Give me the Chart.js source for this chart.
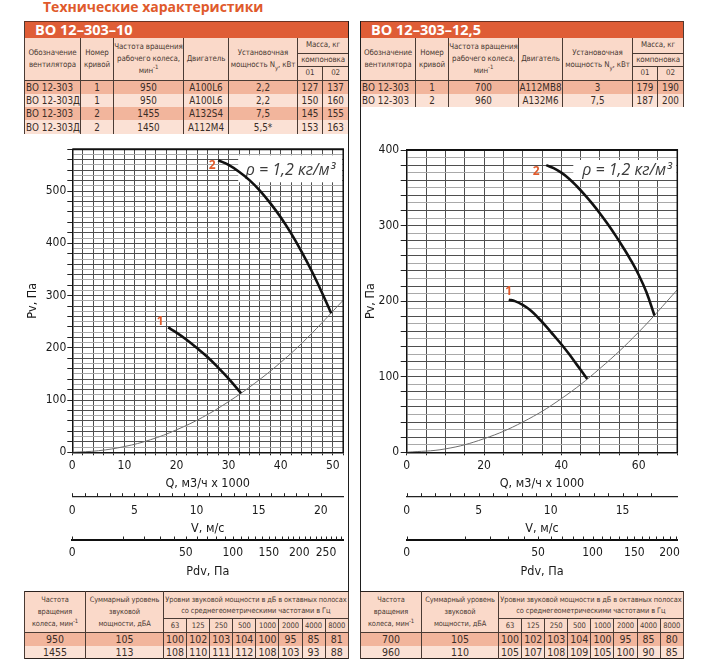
<!DOCTYPE html>
<html lang="ru">
<head>
<meta charset="utf-8">
<title>ВО 12-303</title>
<script src="https://cdn.jsdelivr.net/npm/chart.js@4.4.1/dist/chart.umd.min.js"></script>
<style>
  body { margin:0; width:710px; height:665px; position:relative; overflow:hidden; background:#fff;
         font-family:'DejaVu Sans Condensed', 'Open Sans', sans-serif; color:#3a2d27; }
  .head { position:absolute; left:43px; top:-3px; font-family:'Open Sans', sans-serif; font-weight:700;
          font-size:14px; line-height:20px; color:#e05a2c; }
  .vline { position:absolute; width:1.5px; background:#1e1e1e; z-index:3; }
  canvas { position:absolute; }
  table.spec { position:absolute; border-collapse:collapse; table-layout:fixed;
               border-left:1.5px solid #2b221e; border-right:1.5px solid #2b221e; z-index:2; }
  table.spec td { padding:0; text-align:center; vertical-align:middle; white-space:nowrap; overflow:hidden;
                  border-left:1px solid #4a3b34; border-right:1px solid #4a3b34; }
  tr.band td { background:#df5d36; color:#fff; font-family:'Open Sans', sans-serif; font-weight:700;
               font-size:14.5px; text-align:left; padding-left:10px; height:16px; line-height:16px;
               border-top:1px solid #6b3222; }
  tr.hd td { background:#fad9c9; font-size:7.9px; line-height:12px; color:#4a3a33; letter-spacing:-0.1px; }
  table.spec td.bb { border-bottom:1px solid #4a3b34; }
  tr.dk td { background:#f2b59c; }
  tr.lt td { background:#fbe1d5; }
  tr.dk td, tr.lt td { font-size:9.8px; height:13.3px; line-height:13px; }
  td.l { text-align:left !important; padding-left:1px !important; }
  sup, sub { font-size:6px; line-height:0; }
  table.snd { border-top:1.5px solid #2b221e; border-bottom:1.5px solid #2b221e; }
  table.snd tr.hd td { font-size:7.4px; line-height:12px; }
  table.snd tr.hd td.wide { font-size:7.4px; line-height:11px; }
  table.snd tr.fq td { font-size:7.6px; }
  table.snd tr.dk td, table.snd tr.lt td { font-size:10.5px; height:12.5px; line-height:12px; }
</style>
</head>
<body>
<div class="head">Технические характеристики</div>

<table class="spec" style="left:24px;top:21px;width:324px">
  <colgroup><col style="width:56px"><col style="width:33px"><col style="width:70px"><col style="width:45px"><col style="width:69px"><col style="width:25px"><col style="width:26px"></colgroup>
  <tr class="band"><td colspan="7">ВО 12–303–10</td></tr>
  <tr class="hd" style="height:15px"><td rowspan="3" class="bb">Обозначение<br>вентилятора</td><td rowspan="3" class="bb">Номер<br>кривой</td><td rowspan="3" class="bb">Частота вращения<br>рабочего колеса,<br>мин<sup>-1</sup></td><td rowspan="3" class="bb">Двигатель</td><td rowspan="3" class="bb">Установочная<br>мощность N<sub>у</sub>, кВт</td><td colspan="2" class="bb">Масса, кг</td></tr>
  <tr class="hd" style="height:13px"><td colspan="2" class="bb">компоновка</td></tr>
  <tr class="hd" style="height:14px"><td class="bb">01</td><td class="bb">02</td></tr>
  <tr class="dk"><td class="l">ВО 12-303</td><td>1</td><td>950</td><td>А100L6</td><td>2,2</td><td>127</td><td>137</td></tr>
  <tr class="lt"><td class="l">ВО 12-303Д</td><td>1</td><td>950</td><td>А100L6</td><td>2,2</td><td>150</td><td>160</td></tr>
  <tr class="dk"><td class="l">ВО 12-303</td><td>2</td><td>1455</td><td>А132S4</td><td>7,5</td><td>145</td><td>155</td></tr>
  <tr class="lt"><td class="l">ВО 12-303Д</td><td>2</td><td>1450</td><td>А112М4</td><td>5,5*</td><td>153</td><td>163</td></tr>
</table>

<table class="spec" style="left:360px;top:21px;width:323px">
  <colgroup><col style="width:55px"><col style="width:33px"><col style="width:70px"><col style="width:44px"><col style="width:70px"><col style="width:25px"><col style="width:26px"></colgroup>
  <tr class="band"><td colspan="7">ВО 12–303–12,5</td></tr>
  <tr class="hd" style="height:15px"><td rowspan="3" class="bb">Обозначение<br>вентилятора</td><td rowspan="3" class="bb">Номер<br>кривой</td><td rowspan="3" class="bb">Частота вращения<br>рабочего колеса,<br>мин<sup>-1</sup></td><td rowspan="3" class="bb">Двигатель</td><td rowspan="3" class="bb">Установочная<br>мощность N<sub>у</sub>, кВт</td><td colspan="2" class="bb">Масса, кг</td></tr>
  <tr class="hd" style="height:13px"><td colspan="2" class="bb">компоновка</td></tr>
  <tr class="hd" style="height:14px"><td class="bb">01</td><td class="bb">02</td></tr>
  <tr class="dk"><td class="l">ВО 12-303</td><td>1</td><td>700</td><td>А112МВ8</td><td>3</td><td>179</td><td>190</td></tr>
  <tr class="lt"><td class="l">ВО 12-303</td><td>2</td><td>960</td><td>А132М6</td><td>7,5</td><td>187</td><td>200</td></tr>
</table>

<table class="spec snd" style="left:24px;top:591px;width:324px">
  <colgroup><col style="width:61px"><col style="width:78px"><col span="8" style="width:23.1px"></colgroup>
  <tr class="hd" style="height:27px"><td rowspan="2" class="bb">Частота<br>вращения<br>колеса, мин<sup>-1</sup></td><td rowspan="2" class="bb">Суммарный уровень<br>звуковой<br>мощности, дБА</td><td colspan="8" class="bb wide">Уровни звуковой мощности в дБ в октавных полосах<br>со среднегеометрическими частотами в Гц</td></tr>
  <tr class="hd fq" style="height:14px"><td class="bb">63</td><td class="bb">125</td><td class="bb">250</td><td class="bb">500</td><td class="bb">1000</td><td class="bb">2000</td><td class="bb">4000</td><td class="bb">8000</td></tr>
  <tr class="dk"><td>950</td><td>105</td><td>100</td><td>102</td><td>103</td><td>104</td><td>100</td><td>95</td><td>85</td><td>81</td></tr>
  <tr class="lt"><td>1455</td><td>113</td><td>108</td><td>110</td><td>111</td><td>112</td><td>108</td><td>103</td><td>93</td><td>88</td></tr>
</table>

<table class="spec snd" style="left:360px;top:591px;width:323px">
  <colgroup><col style="width:61px"><col style="width:77px"><col span="8" style="width:23.1px"></colgroup>
  <tr class="hd" style="height:27px"><td rowspan="2" class="bb">Частота<br>вращения<br>колеса, мин<sup>-1</sup></td><td rowspan="2" class="bb">Суммарный уровень<br>звуковой<br>мощности, дБА</td><td colspan="8" class="bb wide">Уровни звуковой мощности в дБ в октавных полосах<br>со среднегеометрическими частотами в Гц</td></tr>
  <tr class="hd fq" style="height:14px"><td class="bb">63</td><td class="bb">125</td><td class="bb">250</td><td class="bb">500</td><td class="bb">1000</td><td class="bb">2000</td><td class="bb">4000</td><td class="bb">8000</td></tr>
  <tr class="dk"><td>700</td><td>105</td><td>100</td><td>102</td><td>103</td><td>104</td><td>100</td><td>95</td><td>85</td><td>80</td></tr>
  <tr class="lt"><td>960</td><td>110</td><td>105</td><td>107</td><td>108</td><td>109</td><td>105</td><td>100</td><td>90</td><td>85</td></tr>
</table>

<div class="vline" style="left:347.5px;top:21px;height:571px"></div>
<div class="vline" style="left:359.5px;top:21px;height:571px"></div>

<canvas id="chart10" width="330" height="450" style="left:20px;top:140px"></canvas>
<canvas id="chart125" width="330" height="450" style="left:360px;top:140px"></canvas>

<script>
// ВО 12-303-10: Q (тыс. м3/ч) and Pv (Па)
const q10Curve1 = [18.4, 20, 22, 24, 26, 28, 30, 32.4];
const pv10Curve1 = [239, 229, 215, 199, 182, 162, 141, 113];
const q10Curve2 = [28, 30, 32, 34, 36, 38, 40, 42, 44, 46, 48, 49.7];
const pv10Curve2 = [559, 550, 537, 521, 501, 477, 450, 419, 384, 346, 304, 266];
const q10Net = [0, 5, 10, 15, 20, 25, 30, 35, 40, 45, 52];
const pv10Net = [0, 3, 11, 24, 43, 67, 97, 132, 172, 218, 291];
const pdvTicks10 = [0, 10, 20, 30, 40, 50, 60, 70, 80, 90, 100, 110, 120, 130, 140, 150, 160, 170, 180, 190, 200, 210, 220, 230, 240, 250, 260, 270, 280];
const pdvLabels10 = [0, 50, 100, 150, 200, 250];

// ВО 12-303-12,5
const q125Curve1 = [26.4, 28, 30, 32, 34, 36, 38, 40, 42, 44, 46.7];
const pv125Curve1 = [202, 200, 195, 188, 178, 167, 155, 143, 130, 116, 97];
const q125Curve2 = [36.1, 38, 40, 42, 44, 46, 48, 50, 52, 54, 56, 58, 60, 62, 64.1];
const pv125Curve2 = [380, 376, 370, 362, 352, 341, 329, 316, 302, 287, 271, 254, 235, 212, 181];
const q125Net = [0, 10, 20, 30, 40, 50, 60, 70];
const pv125Net = [0, 4.5, 18, 40, 71, 111, 159, 215];
const pdvTicks125 = [0, 10, 20, 30, 40, 50, 60, 70, 80, 90, 100, 110, 120, 130, 140, 150, 160, 170, 180, 190, 200, 210];
const pdvLabels125 = [0, 50, 100, 150, 200];

const AXIS_FONT = "'DejaVu Sans Condensed', 'Liberation Sans', sans-serif";
const ORANGE = '#e05a2b';
const TEXT = '#1a1a1a';
const GRID_DARK = '#4f4f4f';
const GRID_LIGHT = '#a9a9a9';

// dynamic pressure grows with V^2, so its axis is a square-root scale
class SqrtScale extends Chart.LinearScale {
  static id = 'sqrt';
  static defaults = Chart.LinearScale.defaults;
  getPixelForValue(value) {
    const d = Math.sqrt(Math.max(0, (value - this.min) / (this.max - this.min)));
    return this.getPixelForDecimal(d);
  }
  getValueForPixel(pixel) {
    const d = this.getDecimalForPixel(pixel);
    return this.min + d * d * (this.max - this.min);
  }
}
Chart.register(SqrtScale);

const panelPlugin = {
  id: 'panel',
  beforeDatasetsDraw(chart, args, o) {
    const { ctx, chartArea: a } = chart;
    ctx.save();
    ctx.fillStyle = '#fff';
    ctx.fillRect(a.right - o.boxW, a.top + o.boxTop, o.boxW - 1, o.boxH);
    ctx.font = "italic 16px 'Open Sans', sans-serif";
    ctx.fillStyle = '#3c3c3c';
    ctx.textAlign = 'right';
    ctx.textBaseline = 'middle';
    ctx.fillText('ρ = 1,2 кг/м³', a.right - o.textRight, a.top + o.textY);
    ctx.restore();
  },
  afterDatasetsDraw(chart) {
    const { ctx, chartArea: a } = chart;
    ctx.save();
    ctx.strokeStyle = '#111';
    ctx.lineWidth = 2;
    ctx.beginPath(); ctx.moveTo(a.left, a.top); ctx.lineTo(a.right + 0.75, a.top); ctx.stroke();
    ctx.lineWidth = 1.5;
    ctx.beginPath(); ctx.moveTo(a.right, a.top); ctx.lineTo(a.right, a.bottom); ctx.stroke();
    // curve numbers next to the first point of each curve
    ctx.font = "bold 12px 'Open Sans', sans-serif";
    ctx.fillStyle = ORANGE;
    ctx.textAlign = 'center';
    ctx.textBaseline = 'middle';
    chart.data.datasets.forEach((ds, i) => {
      if (!ds.num) return;
      const p = chart.getDatasetMeta(i).data[0];
      ctx.fillText(ds.num, p.x + ds.numDx, p.y + ds.numDy);
    });
    ctx.restore();
  },
  afterDraw(chart) {
    // short ticks standing up on the V and Pdv lines
    const { ctx } = chart;
    ctx.save();
    ctx.strokeStyle = '#222';
    ctx.lineWidth = 1;
    ['v', 'p'].forEach(id => {
      const s = chart.scales[id];
      s.ticks.forEach(t => {
        if (id === 'v' && !Number.isInteger(t.value)) return;
        const x = Math.round(s.getPixelForValue(t.value)) + 0.5;
        ctx.beginPath(); ctx.moveTo(x, s.top); ctx.lineTo(x, s.top - 3.5); ctx.stroke();
      });
    });
    ctx.restore();
  }
};

function points(xs, ys) {
  return xs.map((x, i) => ({ x: x, y: ys[i] }));
}

function fanCurve(xs, ys, num, dx, dy) {
  return {
    data: points(xs, ys), borderColor: '#111', borderWidth: 2.6, pointRadius: 0,
    tension: 0.4, borderJoinStyle: 'round', fill: false,
    num: num, numDx: dx, numDy: dy
  };
}

function netCurve(xs, ys) {
  return {
    data: points(xs, ys), borderColor: '#6e6e6e', borderWidth: 1, pointRadius: 0,
    tension: 0.4, fill: false
  };
}

function makePanel(id, c) {
  const font = size => ({ family: AXIS_FONT, size: size });
  return new Chart(document.getElementById(id), {
    type: 'line',
    data: { datasets: c.datasets },
    options: {
      responsive: false,
      animation: false,
      events: [],
      layout: { padding: { top: c.padTop, right: c.padRight, bottom: 9, left: 0 } },
      plugins: {
        legend: { display: false },
        tooltip: { enabled: false },
        panel: c.box
      },
      scales: {
        x: {
          type: 'linear', position: 'bottom', weight: 0, min: 0, max: c.qMax,
          ticks: {
            stepSize: c.qStep, autoSkip: false, maxRotation: 0, padding: 3.2, color: TEXT, font: font(12),
            callback: v => (v % c.qLabelStep === 0 ? v : '')
          },
          grid: { color: GRID_DARK, lineWidth: 1, tickLength: 3, tickColor: '#222' },
          border: { color: '#111', width: 1.5 },
          title: { display: true, text: 'Q, м3/ч х 1000', color: TEXT, font: font(12.5), padding: { top: 0, bottom: 5.2 } },
          afterFit: s => { s.height = 44.4; }
        },
        v: {
          type: 'linear', position: 'bottom', weight: 1, min: 0, max: c.vMax,
          ticks: {
            stepSize: 1, autoSkip: false, maxRotation: 0, padding: 6.8, color: TEXT, font: font(12),
            callback: v => (Number.isInteger(v) && v % 5 === 0 ? v : '')
          },
          grid: { display: false, drawTicks: false },
          border: { color: '#222', width: 1.2 },
          title: { display: true, text: 'V, м/с', color: TEXT, font: font(12.5), padding: { top: 0, bottom: 3.5 } },
          afterFit: s => { s.height = 43.3; }
        },
        p: {
          type: 'sqrt', position: 'bottom', weight: 2, min: 0, max: c.pdvMax,
          afterBuildTicks: s => { s.ticks = c.pdvTicks.map(v => ({ value: v })); },
          ticks: {
            autoSkip: false, maxRotation: 0, padding: 5.8, color: TEXT, font: font(12),
            callback: v => (c.pdvLabels.includes(v) ? v : '')
          },
          grid: { display: false, drawTicks: false },
          border: { color: '#111', width: 2 },
          title: { display: true, text: 'Pdv, Па', color: TEXT, font: font(12.5), padding: { top: 0, bottom: 1.8 } },
          afterFit: s => { s.height = 41; }
        },
        y: {
          type: 'linear', position: 'left', min: 0, max: c.pvMax,
          ticks: {
            stepSize: 10, autoSkip: false, padding: c.yPad, color: TEXT, font: font(12),
            callback: v => (v % 100 === 0 ? v : '')
          },
          grid: {
            lineWidth: 1, tickLength: c.yTick,
            color: ctx => (ctx.tick && ctx.tick.value % 20 === 0 ? GRID_DARK : GRID_LIGHT),
            tickColor: ctx => (ctx.tick && ctx.tick.value % 20 === 0 ? '#222' : 'rgba(0,0,0,0)')
          },
          border: { color: '#111', width: 1.5 },
          title: { display: true, text: 'Pv, Па', color: TEXT, font: font(12.5), padding: { top: c.yTitlePad } },
          afterFit: s => { s.width = c.yWidth; }
        }
      }
    },
    plugins: [panelPlugin]
  });
}

makePanel('chart10', {
  datasets: [
    fanCurve(q10Curve2, pv10Curve2, '2', -6, 5),
    fanCurve(q10Curve1, pv10Curve1, '1', -8, -6),
    netCurve(q10Net, pv10Net)
  ],
  qMax: 52, qStep: 2, qLabelStep: 10, pvMax: 580, vMax: 21.8, pdvMax: 285,
  pdvTicks: pdvTicks10, pdvLabels: pdvLabels10,
  padTop: 9.3, padRight: 6.7, yWidth: 52.3, yTick: 5, yPad: 1, yTitlePad: 5.5,
  box: { boxW: 105, boxTop: 6, boxH: 27, textRight: 8, textY: 20.7 }
});

makePanel('chart125', {
  datasets: [
    fanCurve(q125Curve2, pv125Curve2, '2', -10, 6),
    fanCurve(q125Curve1, pv125Curve1, '1', 0, -8),
    netCurve(q125Net, pv125Net)
  ],
  qMax: 70, qStep: 5, qLabelStep: 20, pvMax: 400, vMax: 18.8, pdvMax: 212,
  pdvTicks: pdvTicks125, pdvLabels: pdvLabels125,
  padTop: 10, padRight: 12.7, yWidth: 46.7, yTick: 6, yPad: 1.5, yTitlePad: 3.2,
  box: { boxW: 104, boxTop: 10, boxH: 20, textRight: 5.6, textY: 20 }
});
</script>
</body>
</html>
